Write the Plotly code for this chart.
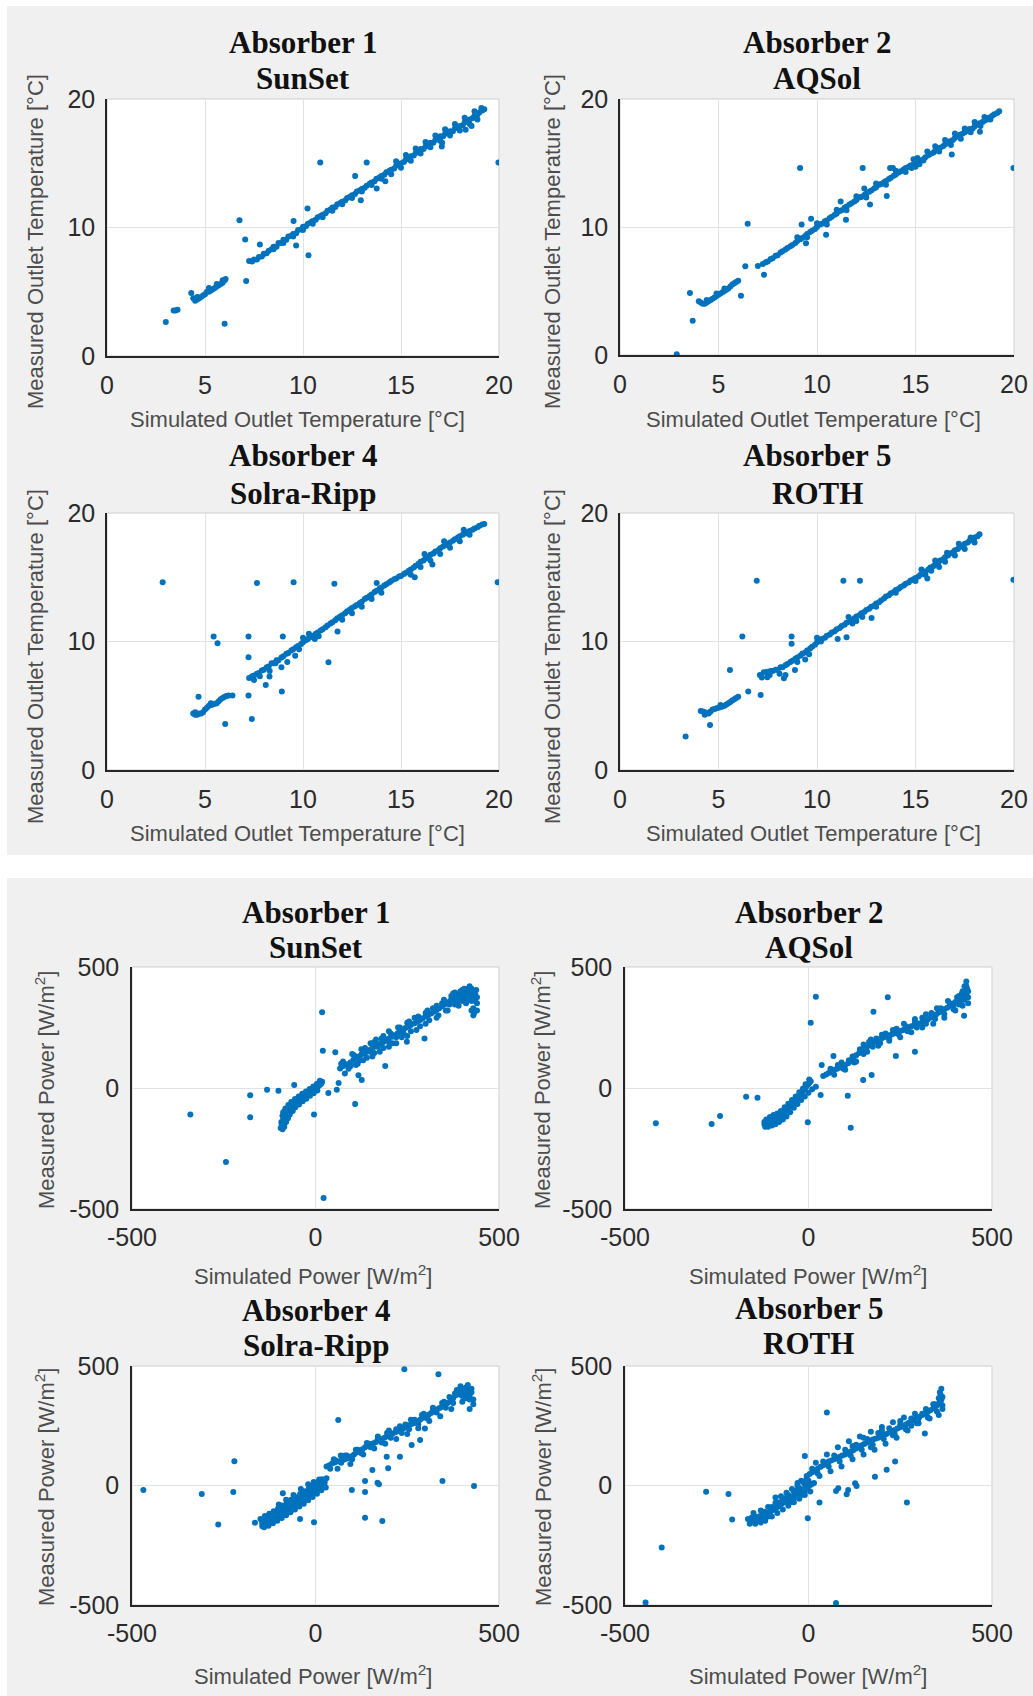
import plotly.graph_objects as go

W, H = 1033, 1696

# ---------------- data (simulated, measured) ----------------
# Outlet temperature [°C]
t1_pts = [
    (3.0, 2.65), (3.4, 3.55), (3.5, 3.55), (3.6, 3.6), (6.0, 2.5),
    (4.3, 4.9), (4.4, 4.5), (4.5, 4.3), (4.6, 4.4), (4.7, 4.5), (4.8, 4.6), (4.9, 4.7), (5.0, 4.8),
    (5.1, 5.0), (5.2, 5.0), (5.3, 5.1), (5.4, 5.2), (5.5, 5.3), (5.6, 5.4), (5.7, 5.5), (5.8, 5.6),
    (5.9, 5.7), (6.0, 5.9), (6.05, 6.0), (5.2, 5.3), (5.6, 5.6), (5.9, 5.9), (4.6, 4.6),
    (7.25, 7.4), (7.5, 7.5), (7.75, 7.7), (8.0, 7.95), (8.25, 8.2), (8.5, 8.5), (8.75, 8.8), (9.0, 9.05),
    (9.25, 9.3), (9.5, 9.5), (9.75, 9.8), (10.0, 10.05), (10.25, 10.3), (10.5, 10.5), (10.75, 10.8),
    (11.0, 11.0), (11.25, 11.3), (11.5, 11.55), (11.75, 11.8), (12.0, 12.0), (12.25, 12.3), (12.5, 12.5),
    (12.75, 12.8), (13.0, 13.0), (13.25, 13.25), (13.5, 13.5), (13.75, 13.8), (14.0, 14.0), (14.25, 14.3),
    (14.5, 14.5), (14.75, 14.8), (15.0, 15.0), (15.25, 15.3), (15.5, 15.55), (15.75, 15.8), (16.0, 16.1),
    (16.25, 16.3), (16.5, 16.6), (16.75, 16.8), (17.0, 17.1), (17.25, 17.3), (17.5, 17.5), (17.75, 17.7),
    (18.0, 17.9), (18.25, 18.2), (18.5, 18.4), (18.75, 18.7), (19.0, 18.95), (19.25, 19.2),
    (7.4, 7.35), (7.65, 7.5), (7.9, 7.75), (8.15, 8.0), (8.4, 8.3), (8.65, 8.5), (8.9, 8.8), (9.15, 9.05),
    (9.4, 9.35), (9.65, 9.55), (9.9, 9.85), (10.15, 10.1), (10.4, 10.4), (10.65, 10.6), (10.9, 10.9),
    (11.15, 11.1), (11.4, 11.4), (11.65, 11.6), (11.9, 11.9), (12.15, 12.1), (12.4, 12.4), (12.65, 12.6),
    (12.9, 12.9), (13.15, 13.1), (13.4, 13.4), (13.65, 13.6), (13.9, 13.9), (14.15, 14.1), (14.4, 14.4),
    (14.65, 14.6), (14.9, 14.9), (15.15, 15.1), (15.4, 15.4), (15.65, 15.6), (15.9, 15.95), (16.15, 16.1),
    (16.4, 16.5), (16.65, 16.6), (16.9, 17.0), (17.15, 17.1), (17.4, 17.4), (17.65, 17.5), (17.9, 17.8),
    (18.15, 17.95), (18.4, 18.3), (18.65, 18.5), (18.9, 18.8), (19.15, 19.1),
    (8.5, 8.3), (9.0, 8.8), (9.5, 9.3), (10.0, 9.8), (10.5, 10.3), (11.0, 10.8), (11.5, 11.3), (12.0, 11.8),
    (12.5, 12.3), (13.0, 12.8), (13.5, 13.3), (14.0, 13.8),
    (14.5, 14.15), (15.0, 14.65), (15.5, 15.2), (16.0, 15.75), (16.5, 16.25), (17.0, 16.75), (17.5, 17.15),
    (18.0, 17.55), (18.5, 18.05), (14.75, 15.15), (15.25, 15.65), (15.75, 16.15), (16.25, 16.65),
    (16.75, 17.15), (17.25, 17.65), (17.75, 18.05), (18.25, 18.55), (18.75, 19.05),
    (18.3, 17.6), (18.6, 17.9), (17.1, 16.6), (18.9, 18.4), (19.1, 19.3),
    (6.76, 10.57), (7.05, 9.06), (7.1, 5.84), (7.8, 8.68), (9.52, 10.5), (9.65, 8.6), (10.23, 11.48),
    (10.28, 7.84), (10.88, 15.06), (13.25, 15.06), (12.66, 14.0), (12.95, 12.13), (13.76, 13.04),
    (19.97, 15.06), (17.08, 16.3), (14.2, 13.6),
]

t2_pts = [
    (2.88, 0.05), (3.55, 4.84), (3.69, 2.67), (6.14, 4.63), (6.36, 6.93), (6.48, 10.25), (7.31, 6.27),
    (4.0, 4.2), (4.1, 4.1), (4.2, 4.0), (4.3, 4.0), (4.4, 4.1), (4.5, 4.2), (4.6, 4.3), (4.7, 4.4),
    (4.8, 4.5), (4.9, 4.6), (5.0, 4.7), (5.1, 4.8), (5.2, 4.9), (5.3, 5.0), (5.4, 5.1), (5.5, 5.2),
    (5.6, 5.35), (5.7, 5.5), (5.8, 5.6), (5.9, 5.7), (6.0, 5.8), (4.4, 4.3), (4.9, 4.8), (5.3, 5.2),
    (7.0, 6.95), (7.25, 7.1), (7.5, 7.3), (7.75, 7.55), (8.0, 7.8), (8.25, 8.1), (8.5, 8.35), (8.75, 8.6),
    (9.0, 8.9), (9.25, 9.15), (9.5, 9.45), (9.75, 9.7), (10.0, 10.0), (10.25, 10.25), (10.5, 10.5),
    (10.75, 10.8), (11.0, 11.05), (11.25, 11.3), (11.5, 11.6), (11.75, 11.85), (12.0, 12.1), (12.25, 12.35),
    (12.5, 12.6), (12.75, 12.85), (13.0, 13.1), (13.25, 13.35), (13.5, 13.6), (13.75, 13.85), (14.0, 14.1),
    (14.25, 14.35), (14.5, 14.6), (14.75, 14.8), (15.0, 15.0), (15.25, 15.2), (15.5, 15.45), (15.75, 15.7),
    (16.0, 15.95), (16.25, 16.2), (16.5, 16.45), (16.75, 16.7), (17.0, 16.95), (17.25, 17.2), (17.5, 17.4),
    (17.75, 17.65), (18.0, 17.85), (18.25, 18.1), (18.5, 18.3), (18.75, 18.55), (19.0, 18.8), (19.25, 19.05),
    (7.4, 7.25), (7.65, 7.5), (7.9, 7.75), (8.15, 8.0), (8.4, 8.25), (8.65, 8.5), (8.9, 8.75), (9.15, 9.05),
    (9.4, 9.3), (9.65, 9.6), (9.9, 9.85), (10.15, 10.2), (10.4, 10.45), (10.65, 10.7), (10.9, 10.95),
    (11.15, 11.25), (11.4, 11.5), (11.65, 11.75), (11.9, 12.0), (12.15, 12.3), (12.4, 12.5), (12.65, 12.75),
    (12.9, 13.0), (13.15, 13.3), (13.4, 13.5), (13.65, 13.75), (13.9, 14.0), (14.15, 14.25), (14.4, 14.5),
    (14.65, 14.7), (14.9, 14.9), (15.15, 15.1), (15.4, 15.3), (15.65, 15.6), (15.9, 15.8), (16.15, 16.1),
    (16.4, 16.3), (16.65, 16.6), (16.9, 16.8), (17.15, 17.1), (17.4, 17.3), (17.65, 17.5), (17.9, 17.7),
    (18.15, 18.0), (18.4, 18.2), (18.65, 18.4), (18.9, 18.7), (19.15, 18.9),
    (9.0, 9.2), (9.5, 9.2), (10.0, 10.3), (10.5, 10.2), (11.0, 11.35), (11.5, 11.3), (12.0, 12.4),
    (12.5, 12.3), (13.0, 13.4), (13.5, 13.3), (14.0, 14.4), (14.5, 14.3),
    (14.8, 14.6), (15.0, 14.7), (15.2, 14.9), (15.4, 15.2), (14.9, 15.3), (15.1, 15.4), (15.6, 15.9),
    (16.0, 16.3), (16.5, 16.8), (17.0, 17.3), (17.5, 17.7), (18.0, 18.2), (18.5, 18.6), (16.2, 15.9),
    (16.8, 16.4), (17.3, 16.9), (17.8, 17.4), (18.3, 17.9), (18.8, 18.4),
    (9.14, 14.6), (9.22, 10.2), (9.7, 10.64), (10.46, 9.39), (9.44, 8.73), (11.47, 10.56), (12.32, 14.6),
    (12.69, 11.76), (13.54, 12.42), (13.71, 14.6), (13.85, 14.6), (16.84, 15.66), (18.27, 17.44),
    (19.97, 14.6), (12.4, 13.0), (11.2, 12.0),
]

t4_pts = [
    (2.84, 14.62), (4.67, 5.71), (5.44, 10.39), (5.64, 9.87), (6.03, 3.58), (7.22, 10.39), (7.22, 8.78),
    (7.22, 5.79), (7.39, 3.97), (7.65, 14.55), (8.1, 6.62), (8.29, 7.27), (8.97, 10.39), (8.92, 6.1),
    (9.52, 14.62), (11.3, 8.39), (11.6, 14.5), (11.76, 10.78), (13.76, 14.55), (19.93, 14.62),
    (4.4, 4.4), (4.5, 4.3), (4.6, 4.3), (4.7, 4.4), (4.8, 4.4), (4.9, 4.5), (5.0, 4.7), (5.1, 4.85),
    (5.2, 5.0), (5.3, 5.05), (5.4, 5.1), (5.5, 5.15), (5.6, 5.2), (5.7, 5.35), (5.8, 5.5), (5.9, 5.6),
    (6.0, 5.7), (6.1, 5.75), (6.2, 5.8), (6.4, 5.8), (4.5, 4.5), (5.3, 5.2),
    (7.25, 7.15), (7.5, 7.35), (7.75, 7.55), (8.0, 7.8), (8.25, 8.05), (8.5, 8.3), (8.75, 8.55),
    (9.0, 8.85), (9.25, 9.1), (9.5, 9.4), (9.75, 9.65), (10.0, 9.95), (10.25, 10.2), (10.5, 10.45),
    (10.75, 10.7), (11.0, 10.95), (11.25, 11.25), (11.5, 11.5), (11.75, 11.8), (12.0, 12.05),
    (12.25, 12.35), (12.5, 12.6), (12.75, 12.85), (13.0, 13.1), (13.25, 13.4), (13.5, 13.65),
    (13.75, 13.95), (14.0, 14.2), (14.25, 14.45), (14.5, 14.7), (14.75, 14.9), (15.0, 15.1),
    (15.25, 15.35), (15.5, 15.6), (15.75, 15.9), (16.0, 16.2), (16.25, 16.45), (16.5, 16.75),
    (16.75, 17.0), (17.0, 17.25), (17.25, 17.5), (17.5, 17.7), (17.75, 17.95), (18.0, 18.2),
    (18.25, 18.4), (18.5, 18.6), (18.75, 18.8), (19.0, 19.0), (19.25, 19.15),
    (7.4, 7.3), (7.65, 7.5), (7.9, 7.75), (8.15, 8.0), (8.4, 8.3), (8.65, 8.55), (8.9, 8.75), (9.15, 9.05),
    (9.4, 9.3), (9.65, 9.55), (9.9, 9.8), (10.15, 10.1), (10.4, 10.35), (10.65, 10.6), (10.9, 10.85),
    (11.15, 11.1), (11.4, 11.4), (11.65, 11.65), (11.9, 11.95), (12.15, 12.2), (12.4, 12.5), (12.65, 12.75),
    (12.9, 13.0), (13.15, 13.3), (13.4, 13.55), (13.65, 13.85), (13.9, 14.1), (14.15, 14.35), (14.4, 14.6),
    (14.65, 14.85), (14.9, 15.05), (15.15, 15.25), (15.4, 15.5), (15.65, 15.75), (15.9, 16.05),
    (16.15, 16.3), (16.4, 16.6), (16.65, 16.85), (16.9, 17.1), (17.15, 17.4), (17.4, 17.6), (17.65, 17.85),
    (17.9, 18.1), (18.15, 18.3), (18.4, 18.5), (18.65, 18.7), (18.9, 18.9), (19.15, 19.1),
    (7.5, 7.0), (7.8, 7.3), (8.3, 7.7), (8.6, 8.3), (8.9, 8.0), (9.2, 8.4), (9.6, 8.9), (10.0, 10.3),
    (10.3, 10.6), (10.6, 10.2), (9.8, 9.4), (10.8, 10.4), (12.0, 11.7), (12.5, 12.2), (13.0, 12.7),
    (13.5, 13.3), (14.0, 13.8), (15.5, 15.2), (16.0, 15.8), (16.5, 16.3), (17.0, 16.8), (17.5, 17.3),
    (18.0, 17.8), (18.5, 18.3), (16.2, 16.8), (17.2, 17.8), (18.2, 18.7), (15.7, 15.0), (16.6, 16.0),
]

t5_pts = [
    (3.33, 2.6), (4.57, 3.5), (5.58, 7.79), (6.21, 10.39), (6.51, 6.1), (6.94, 14.73), (7.14, 5.84),
    (7.48, 7.22), (8.32, 7.14), (8.71, 10.39), (8.71, 9.82), (8.88, 7.79), (11.34, 14.73), (12.18, 14.73),
    (11.05, 10.2), (11.5, 10.34), (12.77, 11.82), (19.97, 14.81), (15.6, 14.9),
    (4.1, 4.6), (4.2, 4.55), (4.3, 4.5), (4.4, 4.45), (4.5, 4.4), (4.6, 4.55), (4.7, 4.7), (4.8, 4.75),
    (4.9, 4.8), (5.0, 4.85), (5.1, 4.9), (5.2, 4.95), (5.3, 5.0), (5.4, 5.1), (5.5, 5.2), (5.6, 5.3),
    (5.7, 5.4), (5.8, 5.5), (5.9, 5.6), (6.0, 5.7), (4.3, 4.3), (5.1, 5.05),
    (7.1, 7.4), (7.3, 7.6), (7.5, 7.65), (7.75, 7.7), (8.0, 7.8), (8.25, 8.0), (8.5, 8.25), (8.75, 8.5),
    (9.0, 8.75), (9.25, 9.05), (9.5, 9.3), (9.75, 9.6), (10.0, 9.95), (10.25, 10.2), (10.5, 10.45),
    (10.75, 10.7), (11.0, 10.95), (11.25, 11.2), (11.5, 11.45), (11.75, 11.7), (12.0, 11.95),
    (12.25, 12.2), (12.5, 12.45), (12.75, 12.7), (13.0, 12.95), (13.25, 13.2), (13.5, 13.5),
    (13.75, 13.75), (14.0, 14.0), (14.25, 14.25), (14.5, 14.5), (14.75, 14.75), (15.0, 14.95),
    (15.25, 15.2), (15.5, 15.45), (15.75, 15.75), (16.0, 16.0), (16.25, 16.3), (16.5, 16.55),
    (16.75, 16.85), (17.0, 17.1), (17.25, 17.35), (17.5, 17.6), (17.75, 17.85), (18.0, 18.1), (18.25, 18.35),
    (7.4, 7.6), (7.65, 7.7), (7.9, 7.8), (8.15, 8.0), (8.4, 8.15), (8.65, 8.4), (8.9, 8.65), (9.15, 8.9),
    (9.4, 9.15), (9.65, 9.45), (9.9, 9.75), (10.15, 10.05), (10.4, 10.3), (10.65, 10.55), (10.9, 10.8),
    (11.15, 11.05), (11.4, 11.3), (11.65, 11.55), (11.9, 11.8), (12.15, 12.05), (12.4, 12.3), (12.65, 12.55),
    (12.9, 12.8), (13.15, 13.05), (13.4, 13.35), (13.65, 13.6), (13.9, 13.85), (14.15, 14.1), (14.4, 14.35),
    (14.65, 14.6), (14.9, 14.85), (15.15, 15.05), (15.4, 15.3), (15.65, 15.6), (15.9, 15.85), (16.15, 16.1),
    (16.4, 16.4), (16.65, 16.7), (16.9, 16.95), (17.15, 17.2), (17.4, 17.45), (17.65, 17.7), (17.9, 17.95),
    (18.15, 18.2),
    (7.2, 7.2), (7.6, 7.4), (8.1, 7.5), (8.4, 7.4), (9.0, 8.4), (9.4, 8.6), (9.6, 9.0), (10.0, 10.3),
    (10.2, 10.0), (11.6, 11.9), (12.0, 11.6), (11.8, 11.4), (12.3, 11.9), (13.0, 12.7), (14.0, 13.8),
    (15.0, 14.7), (15.5, 15.2), (15.8, 15.5), (16.0, 16.3), (16.5, 16.2), (16.6, 16.9), (17.0, 16.7),
    (17.2, 17.6), (17.5, 17.2), (17.8, 18.1), (18.0, 17.7), (15.3, 15.6), (16.2, 15.8),
]

# Power [W/m2]
p1_pts = [
    (-341, -110), (-244, -306), (-178, -30), (-178, -121), (-132, -7), (-101, -11), (-58, 12), (-4, -110),
    (22, -455), (18, 313), (20, 154), (54, 148), (35, -21), (58, -7), (63, 21), (108, -66), (117, 53),
    (126, 33), (297, 205), (249, 191), (190, 91),
    (-92, -150), (-88, -130), (-84, -115), (-80, -100), (-75, -90), (-70, -82), (-64, -72), (-58, -64),
    (-52, -56), (-46, -48), (-40, -42), (-34, -36), (-28, -30), (-22, -24), (-16, -18), (-10, -12),
    (-4, -6), (2, 0), (8, 8), (14, 16), (18, 26),
    (-90, -140), (-86, -120), (-82, -108), (-78, -95), (-72, -86), (-67, -76), (-61, -68), (-55, -60),
    (-49, -52), (-43, -45), (-37, -39), (-31, -33), (-25, -27), (-19, -21), (-13, -15), (-7, -9),
    (-1, -3), (5, 4), (11, 12), (16, 20),
    (-95, -165), (-93, -140), (-86, -150), (-78, -118), (-72, -98), (-68, -92), (-84, -95), (-90, -115),
    (-90, -170), (-85, -160), (-80, -140), (-75, -125), (-70, -110), (-62, -95), (-55, -80), (-45, -68),
    (-35, -55), (-25, -44), (-15, -32), (-5, -22), (5, -10),
    (-88, -100), (-82, -85), (-74, -70), (-66, -58), (-56, -45), (-46, -35), (-36, -24), (-26, -14),
    (-16, -4), (-6, 6), (4, 18), (12, 30),
    (67, 81), (85, 98), (103, 116), (118, 130), (133, 143), (148, 157), (163, 171), (178, 184), (194, 198),
    (209, 212), (224, 226), (239, 240), (254, 254), (270, 268), (285, 281), (300, 295), (315, 308),
    (330, 322), (345, 338), (360, 354), (376, 370), (390, 378), (405, 385), (421, 391),
    (75, 90), (95, 105), (110, 125), (125, 138), (140, 150), (155, 165), (170, 178), (185, 190),
    (200, 205), (215, 218), (230, 232), (245, 248), (260, 260), (277, 275), (292, 288), (307, 302),
    (322, 315), (337, 330), (352, 346), (368, 362), (383, 375), (398, 382), (413, 388), (428, 395),
    (75, 110), (100, 140), (125, 160), (150, 185), (165, 200), (185, 215), (200, 235), (225, 250),
    (250, 270), (270, 290), (300, 310), (320, 330), (345, 350), (370, 380), (395, 400), (415, 410),
    (425, 400), (430, 380), (435, 360), (420, 410), (410, 395),
    (80, 60), (110, 95), (130, 115), (155, 130), (175, 150), (200, 170), (220, 185), (250, 215),
    (275, 240), (300, 265), (330, 290), (360, 320), (390, 340), (410, 350), (430, 330), (432, 310),
    (425, 320), (440, 350),
    (380, 395), (400, 405), (420, 420), (410, 370), (425, 360), (435, 390), (440, 375), (395, 370),
    (430, 300), (440, 320), (385, 385), (405, 395), (415, 380), (425, 410), (430, 395), (438, 405),
    (418, 365), (400, 360), (380, 360), (365, 345),
    (70, 100), (90, 80), (105, 135), (115, 100), (135, 165), (140, 125), (160, 190), (160, 145),
    (180, 205), (185, 165), (205, 225), (210, 185), (230, 250), (235, 210), (255, 275), (260, 235),
    (280, 295), (285, 255), (305, 320), (310, 280), (330, 340), (335, 300), (350, 365), (355, 320),
    (375, 390), (380, 345), (395, 395), (405, 410), (415, 395), (390, 360), (200, 190), (220, 210),
    (240, 225), (170, 170), (150, 150), (120, 115), (95, 90),
]

p2_pts = [
    (-416, -146), (-264, -149), (-241, -116), (-170, -36), (-139, -40), (-2, -142), (20, 377), (6, 270),
    (33, -29), (107, -32), (115, -164), (216, 375), (177, 315), (238, 132), (290, 150), (424, 299),
    (172, 54), (149, 33), (36, 95), (68, 132),
    (-120, -150), (-112, -145), (-104, -140), (-96, -135), (-88, -128), (-80, -120), (-72, -110),
    (-64, -98), (-56, -86), (-48, -72), (-40, -58), (-32, -44), (-24, -30), (-18, -18), (-12, -6),
    (-6, 6), (0, 18), (6, 28),
    (-116, -148), (-108, -143), (-100, -138), (-92, -131), (-84, -124), (-76, -115), (-68, -104),
    (-60, -92), (-52, -79), (-44, -65), (-36, -51), (-28, -37), (-21, -24), (-15, -12), (-9, 0),
    (-3, 12), (3, 23), (-120, -140), (-110, -135), (-100, -125), (-90, -120), (-118, -160),
    (-105, -152), (-95, -145), (-85, -138), (-75, -130),
    (-110, -160), (-100, -155), (-90, -150), (-80, -140), (-70, -130), (-60, -118), (-50, -100),
    (-40, -82), (-30, -66), (-20, -50), (-10, -35), (0, -20), (10, -5), (20, 5),
    (-115, -130), (-105, -120), (-95, -112), (-85, -105), (-75, -95), (-65, -80), (-55, -65),
    (-45, -50), (-35, -35), (-25, -18), (-15, -2), (-8, 15), (2, 35),
    (40, 50), (55, 62), (70, 75), (85, 85), (100, 95), (115, 110), (130, 135), (145, 155), (160, 172),
    (175, 185), (190, 198), (205, 210), (220, 218), (235, 226), (250, 236), (265, 245), (280, 255),
    (295, 262), (310, 272), (325, 283), (340, 298), (355, 312), (370, 325), (385, 340), (400, 355),
    (415, 368), (428, 385), (435, 400),
    (48, 56), (62, 68), (78, 80), (92, 90), (108, 102), (122, 122), (138, 145), (152, 163), (168, 178),
    (182, 192), (198, 204), (212, 214), (228, 222), (242, 231), (258, 240), (272, 250), (288, 258),
    (302, 267), (318, 278), (332, 290), (348, 305), (362, 318), (378, 332), (392, 348), (408, 362),
    (420, 375), (430, 392), (410, 345), (395, 335), (425, 365), (430, 420), (418, 390),
    (60, 80), (90, 105), (120, 130), (150, 180), (170, 200), (200, 220), (230, 240), (260, 265),
    (290, 285), (320, 305), (350, 330), (380, 360), (410, 380), (425, 420), (430, 440), (420, 400),
    (70, 55), (100, 75), (130, 110), (160, 150), (190, 175), (220, 195), (250, 210), (280, 230),
    (310, 250), (340, 265), (370, 290), (400, 320), (420, 340), (435, 350),
    (60, 65), (80, 95), (95, 80), (110, 115), (125, 105), (140, 160), (150, 140), (165, 190),
    (175, 170), (185, 205), (195, 185), (210, 225), (220, 205), (240, 245), (245, 222), (265, 255),
    (270, 235), (290, 275), (295, 250), (310, 290), (320, 265), (335, 310), (345, 285), (360, 330),
    (370, 305), (385, 350), (395, 325), (405, 375), (415, 350), (425, 380), (435, 375), (432, 410),
]

p4_pts = [
    (-469, -19), (-310, -36), (-224, -27), (-221, 101), (-265, -163), (-165, -156), (-89, -32),
    (-42, -140), (-4, -154), (62, 274), (69, 125), (242, 486), (335, 466), (346, 19), (432, -2),
    (135, -135), (182, -149), (99, -19), (135, -27), (135, 19), (169, 11),
    (194, 120), (198, 72), (230, 120), (262, 169), (285, 190), (298, 239), (173, 5), (155, 65), (81, 120),
    (-145, -160), (-135, -150), (-125, -140), (-115, -130), (-105, -120), (-95, -110), (-85, -100),
    (-75, -90), (-65, -80), (-55, -68), (-45, -58), (-35, -48), (-25, -38), (-15, -28), (-5, -18),
    (5, -8), (15, 2), (25, 12),
    (-140, -155), (-130, -145), (-120, -135), (-110, -125), (-100, -115), (-90, -105), (-80, -95),
    (-70, -85), (-60, -74), (-50, -63), (-40, -53), (-30, -43), (-20, -33), (-10, -23), (0, -13),
    (10, -3), (20, 7), (-145, -170), (-135, -162), (-122, -152), (-110, -140), (-98, -130), (-86, -118),
    (-74, -106), (-62, -94), (-50, -82), (-38, -70), (-26, -56), (-14, -42), (-2, -28), (10, -14),
    (22, -2), (-146, -148), (-132, -134), (-120, -124), (-108, -114), (-96, -102), (-84, -90),
    (-72, -78), (-60, -66), (-48, -54), (-36, -42), (-24, -30), (-12, -18), (0, -6), (12, 6), (24, 18),
    (30, 30), (-20, 5), (-5, 15), (10, 25), (-40, -15), (-60, -40), (-80, -60), (-100, -80),
    (-140, -175), (-128, -168), (-116, -158), (-104, -148), (-92, -136), (-80, -124), (-68, -112),
    (-56, -100), (-44, -88), (-32, -76), (-20, -62), (-8, -48), (4, -34), (16, -20), (28, -8),
    (-150, -140), (-138, -128), (-126, -118), (-114, -108), (-102, -96), (-90, -84), (-78, -72),
    (-66, -60), (-54, -48), (-42, -36), (-30, -24), (-18, -12), (-6, 0), (6, 14), (18, 26),
    (30, 79), (45, 92), (60, 100), (75, 107), (90, 115), (105, 130), (120, 145), (135, 160), (150, 172),
    (165, 182), (180, 195), (195, 206), (210, 218), (225, 228), (240, 240), (255, 252), (270, 262),
    (285, 275), (300, 290), (315, 303), (330, 318), (345, 330), (360, 345), (375, 365), (390, 390),
    (400, 405), (410, 410), (420, 400),
    (38, 85), (52, 96), (68, 103), (82, 111), (98, 122), (112, 138), (128, 152), (142, 166), (158, 177),
    (172, 189), (188, 200), (202, 212), (218, 223), (232, 234), (248, 246), (262, 257), (278, 268),
    (292, 282), (308, 296), (322, 310), (338, 324), (352, 337), (368, 355), (382, 378), (395, 398),
    (405, 380), (415, 395), (425, 405), (410, 365), (400, 375),
    (50, 110), (80, 125), (110, 150), (140, 178), (170, 205), (200, 230), (230, 248), (260, 275),
    (290, 295), (320, 320), (350, 350), (380, 385), (395, 415), (415, 420), (425, 390),
    (60, 70), (95, 90), (130, 130), (160, 155), (190, 175), (220, 195), (250, 215), (280, 240),
    (310, 270), (340, 290), (370, 320), (400, 350), (420, 360), (430, 340), (420, 320),
    (40, 70), (55, 105), (70, 95), (85, 125), (100, 110), (115, 150), (125, 135), (145, 175),
    (150, 160), (170, 195), (180, 180), (195, 220), (205, 200), (220, 235), (235, 220), (245, 255),
    (255, 235), (270, 275), (280, 255), (295, 300), (305, 280), (320, 325), (330, 305), (345, 345),
    (355, 325), (365, 370), (375, 345), (385, 400), (395, 380), (410, 390), (420, 375), (430, 360),
]

p5_pts = [
    (-444, -490), (-400, -259), (-279, -26), (-218, -36), (-208, -142), (75, -492), (50, 305), (-2, -137),
    (268, -71), (-10, 123), (30, -71), (75, -23), (104, -37), (127, 9), (181, 37), (317, 218),
    (108, -19), (131, -2), (81, -12), (213, 66), (236, 100),
    (-5, 40), (10, 55), (25, 70), (40, 85), (55, 100), (70, 110), (85, 120), (100, 130), (115, 142),
    (130, 155), (145, 168), (160, 180), (175, 192), (190, 200), (205, 210), (220, 222), (235, 232),
    (250, 244), (265, 255), (280, 268), (295, 282), (310, 295), (325, 308), (340, 322), (350, 335),
    (360, 350), (365, 370), (358, 390), (362, 405),
    (3, 48), (18, 62), (33, 78), (48, 92), (62, 105), (78, 115), (92, 125), (108, 136), (122, 148),
    (138, 162), (152, 174), (168, 186), (182, 196), (198, 205), (212, 216), (228, 227), (242, 238),
    (258, 250), (272, 262), (288, 275), (302, 288), (318, 302), (332, 315), (345, 328), (355, 342),
    (362, 360), (150, 200), (200, 230), (250, 270), (300, 280), (170, 160), (230, 210), (280, 250),
    (120, 165),
    (20, 95), (50, 130), (80, 160), (110, 185), (140, 205), (170, 225), (200, 245), (230, 265),
    (260, 285), (290, 300), (320, 320), (345, 340), (355, 365),
    (30, 40), (60, 60), (90, 80), (120, 110), (150, 130), (180, 150), (210, 175), (240, 200),
    (270, 230), (300, 260), (330, 280), (355, 295), (365, 320),
    (10, 70), (25, 50), (40, 100), (55, 80), (70, 125), (85, 100), (100, 150), (115, 125), (130, 170),
    (145, 150), (160, 195), (175, 170), (190, 220), (205, 195), (220, 240), (235, 215), (250, 255),
    (265, 235), (280, 280), (295, 260), (310, 300), (325, 285), (340, 340), (350, 310), (360, 380),
    (365, 335),
    (-165, -140), (-155, -135), (-145, -140), (-135, -130), (-125, -125), (-115, -120), (-105, -110),
    (-95, -100), (-85, -90), (-75, -78), (-65, -68), (-55, -58), (-45, -48), (-35, -38), (-25, -28),
    (-15, -18), (-5, -8), (5, 2), (15, 10),
    (-160, -148), (-150, -130), (-140, -132), (-130, -128), (-120, -122), (-110, -115), (-100, -105),
    (-90, -95), (-80, -84), (-70, -73), (-60, -63), (-50, -53), (-40, -43), (-30, -33), (-20, -23),
    (-10, -13), (0, -3), (10, 6), (-140, -150), (-120, -140), (-150, -150), (-60, -30), (-45, -15),
    (-30, 10), (-15, 15), (0, 20), (-75, -45),
    (-160, -160), (-145, -160), (-130, -155), (-118, -148), (-100, -130), (-85, -115), (-70, -100),
    (-55, -85), (-40, -70), (-25, -55), (-10, -40), (5, -25),
    (-150, -115), (-130, -105), (-110, -90), (-90, -72), (-70, -55), (-55, -40), (-40, -25), (-25, -10),
    (-10, 5), (-20, 20), (-5, 30), (-30, 0), (-90, -50),
    (-120, -110), (-100, -90), (-80, -70), (-60, -50), (-40, -55), (-20, -40), (-50, -70), (-30, -20),
    (-10, -25), (-130, -145), (-110, -130),
]

title_line1 = ["Absorber 1", "Absorber 2", "Absorber 4", "Absorber 5"]
title_line2 = ["SunSet", "AQSol", "Solra-Ripp", "ROTH"]

temp_xticks = [0, 5, 10, 15, 20]
temp_yticks = [0, 10, 20]
power_ticks = [-500, 0, 500]
power_ticktext = ["-500", "0", "500"]

temp_xlabel = "Simulated Outlet Temperature [°C]"
temp_ylabel = "Measured Outlet Temperature [°C]"
power_xlabel = "Simulated Power [W/m<sup>2</sup>]"
power_ylabel = "Measured Power [W/m<sup>2</sup>]"

# ---------------- layout helpers ----------------
def fx(p):
    return p / W


def fy(p):
    return 1 - p / H


BLUE = "#0072BD"
SANS = "Liberation Sans, Arial, sans-serif"
SERIF = "Liberation Serif, Times New Roman, serif"

# points, kind, title idx, plot box px (l, r, t, b), title line y px, y-title (x, y) px, x-title (x, y) px
panels = [
    (t1_pts, "T", 0, (107, 499, 99, 356), (43, 78), (35, 242), (297, 420)),
    (t2_pts, "T", 1, (620, 1014, 99, 355), (43, 78), (552, 242), (813, 420)),
    (t4_pts, "T", 2, (107, 499, 513, 770), (455, 493), (35, 657), (297, 833)),
    (t5_pts, "T", 3, (620, 1014, 513, 770), (455, 493), (552, 657), (813, 833)),
    (p1_pts, "P", 0, (132, 499, 967, 1209), (912, 947), (45, 1090), (313, 1275)),
    (p2_pts, "P", 1, (625, 992, 967, 1209), (912, 947), (541, 1090), (808, 1275)),
    (p4_pts, "P", 2, (132, 499, 1366, 1605), (1310, 1345), (45, 1487), (313, 1675)),
    (p5_pts, "P", 3, (625, 992, 1366, 1605), (1308, 1343), (542, 1487), (808, 1675)),
]

fig = go.Figure()
layout = dict(
    width=W, height=H, margin=dict(l=0, r=0, t=0, b=0, pad=0, autoexpand=False),
    paper_bgcolor="#f0f0f0", plot_bgcolor="white", showlegend=False,
)
annotations = []
shapes = [
    dict(type="rect", xref="paper", yref="paper", x0=0, x1=1, y0=fy(6), y1=1,
         fillcolor="white", line=dict(width=0), layer="below"),
    dict(type="rect", xref="paper", yref="paper", x0=0, x1=fx(7), y0=0, y1=1,
         fillcolor="white", line=dict(width=0), layer="below"),
    dict(type="rect", xref="paper", yref="paper", x0=0, x1=1, y0=fy(878), y1=fy(855),
         fillcolor="white", line=dict(width=0), layer="below"),
]

for i, (pts, kind, ti, box, tys, ytl, xtl) in enumerate(panels, start=1):
    xs = [p[0] for p in pts]
    ys = [p[1] for p in pts]
    sfx = "" if i == 1 else str(i)
    fig.add_trace(go.Scatter(
        x=xs, y=ys, mode="markers", xaxis="x" + sfx, yaxis="y" + sfx,
        marker=dict(color=BLUE, size=6, line=dict(width=0)), hoverinfo="skip",
    ))
    L, R, T, B = box
    if kind == "T":
        xr, yr = [0, 20], [0, 20]
        xt, xtt = temp_xticks, [str(v) for v in temp_xticks]
        yt, ytt = temp_yticks, [str(v) for v in temp_yticks]
        xlen, ylen = 6, 5
        xlab, ylab = temp_xlabel, temp_ylabel
    else:
        xr, yr = [-500, 500], [-500, 500]
        xt, xtt = power_ticks, power_ticktext
        yt, ytt = power_ticks, power_ticktext
        xlen, ylen = 5, 6
        xlab, ylab = power_xlabel, power_ylabel
    common = dict(
        showgrid=True, gridcolor="#e2e2e2", gridwidth=1, zeroline=False,
        showline=True, linecolor="#262626", linewidth=1.5, mirror=False,
        ticks="outside", tickcolor="rgba(0,0,0,0)", automargin=False,
        tickfont=dict(family=SANS, size=25, color="#2b2b2b"), fixedrange=True,
    )
    layout["xaxis" + sfx] = dict(
        common, domain=[fx(L), fx(R)], range=xr, tickmode="array", tickvals=xt, ticktext=xtt,
        ticklen=xlen, anchor="y" + sfx,
    )
    layout["yaxis" + sfx] = dict(
        common, domain=[fy(B), fy(T)], range=yr, tickmode="array", tickvals=yt, ticktext=ytt,
        ticklen=ylen, anchor="x" + sfx,
    )
    shapes.append(dict(
        type="rect", xref="x" + sfx + " domain", yref="y" + sfx + " domain",
        x0=0, x1=1, y0=0, y1=1, line=dict(color="#cfcfcf", width=1), layer="below",
    ))
    cx = (L + R) / 2
    for line_text, ty in ((title_line1[ti], tys[0]), (title_line2[ti], tys[1])):
        annotations.append(dict(
            text="<b>" + line_text + "</b>", x=fx(cx), y=fy(ty), xref="paper", yref="paper",
            xanchor="center", yanchor="middle", showarrow=False,
            font=dict(family=SERIF, size=31, color="#111111"),
        ))
    annotations.append(dict(
        text=ylab, x=fx(ytl[0]), y=fy(ytl[1]), xref="paper", yref="paper", textangle=-90,
        xanchor="center", yanchor="middle", showarrow=False,
        font=dict(family=SANS, size=22, color="#4d4d4d"),
    ))
    annotations.append(dict(
        text=xlab, x=fx(xtl[0]), y=fy(xtl[1]), xref="paper", yref="paper",
        xanchor="center", yanchor="middle", showarrow=False,
        font=dict(family=SANS, size=22, color="#4d4d4d"),
    ))

layout["annotations"] = annotations
layout["shapes"] = shapes
fig.update_layout(**layout)
fig.write_html("out.html")
